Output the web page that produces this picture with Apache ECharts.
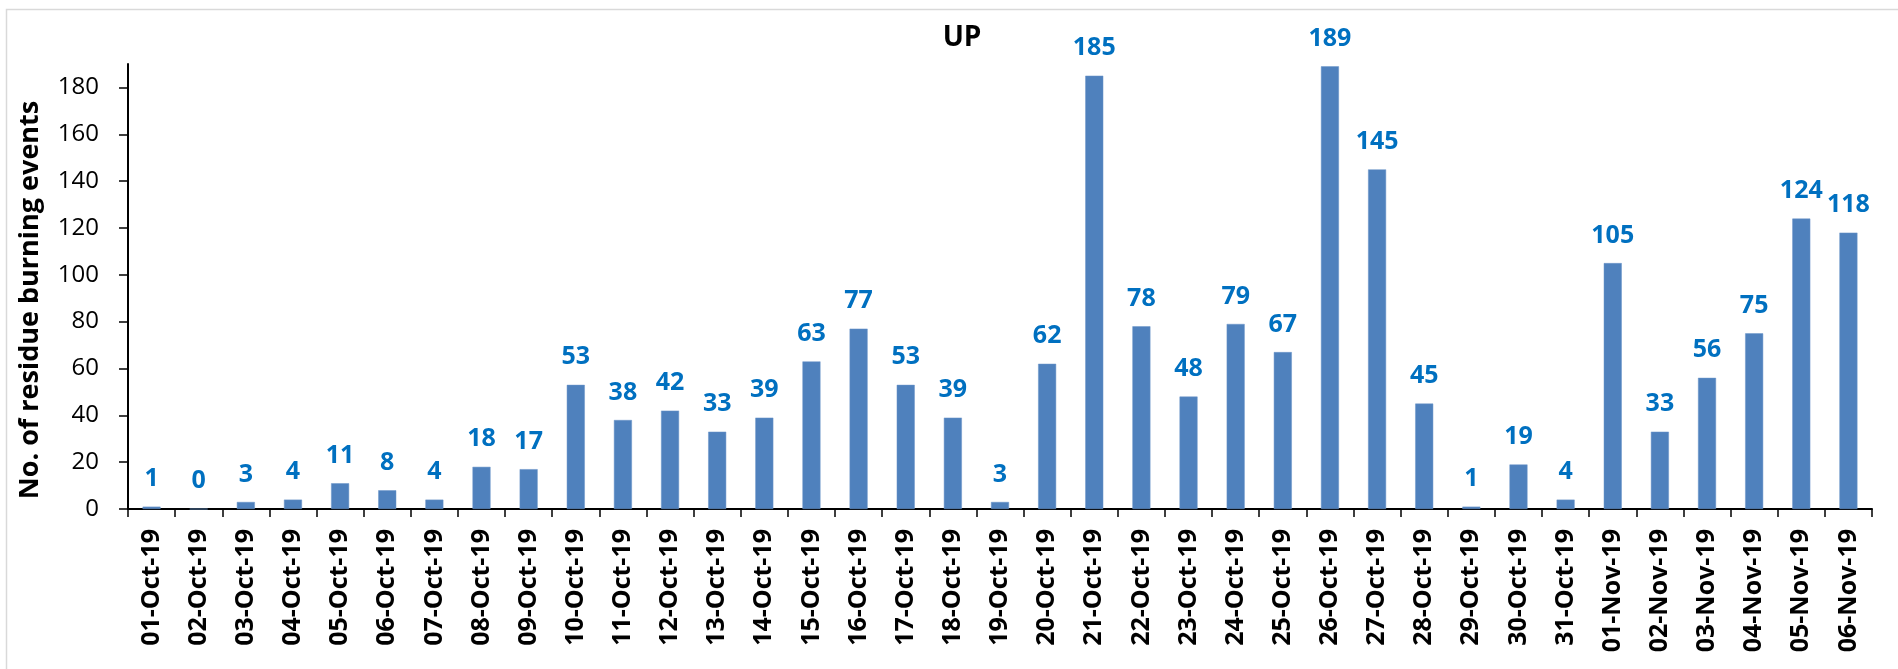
<!DOCTYPE html>
<html>
<head>
<meta charset="utf-8">
<script src="https://cdn.jsdelivr.net/npm/echarts@6/dist/echarts.min.js"></script>
<style>
html,body{margin:0;padding:0;background:#fff;}
#chart{width:1898px;height:669px;}
</style>
</head>
<body>
<div id="chart"></div>
<script>
const categories = ["01-Oct-19","02-Oct-19","03-Oct-19","04-Oct-19","05-Oct-19","06-Oct-19","07-Oct-19","08-Oct-19","09-Oct-19","10-Oct-19","11-Oct-19","12-Oct-19","13-Oct-19","14-Oct-19","15-Oct-19","16-Oct-19","17-Oct-19","18-Oct-19","19-Oct-19","20-Oct-19","21-Oct-19","22-Oct-19","23-Oct-19","24-Oct-19","25-Oct-19","26-Oct-19","27-Oct-19","28-Oct-19","29-Oct-19","30-Oct-19","31-Oct-19","01-Nov-19","02-Nov-19","03-Nov-19","04-Nov-19","05-Nov-19","06-Nov-19"];
const events = [1,0,3,4,11,8,4,18,17,53,38,42,33,39,63,77,53,39,3,62,185,78,48,79,67,189,145,45,1,19,4,105,33,56,75,124,118];
const yTicks = [0,20,40,60,80,100,120,140,160,180];
const chartTitle = "UP";
const yTitle = "No. of residue burning events";

const FONT = "'Open Sans', 'Liberation Sans', sans-serif";
const chart = echarts.init(document.getElementById('chart'), null, {renderer:'canvas'});
chart.setOption({
  animation: false,
  backgroundColor: '#ffffff',
  graphic: [
    {type:'rect', shape:{x:6.5, y:9.5, width:1900, height:700}, style:{fill:'none', stroke:'#d9d9d9', lineWidth:1.5}, silent:true, z:-1},
    {type:'text', x:962, y:38, style:{text:chartTitle, font:"bold 28px " + FONT, fill:'#000', align:'center', verticalAlign:'middle'}},
    {type:'text', x:30, y:300, rotation:Math.PI/2, style:{text:yTitle, font:"bold 27px " + FONT, fill:'#000', align:'center', verticalAlign:'middle'}}
  ],
  grid: {left:128, right:26, top:64, bottom:160, containLabel:false},
  xAxis: {
    type:'category',
    data: categories,
    axisLine:{show:true, lineStyle:{color:'#000', width:2}},
    axisTick:{show:true, alignWithLabel:false, length:8, lineStyle:{color:'#000', width:1.5}},
    axisLabel:{rotate:90, interval:0, margin:20, color:'#000', fontFamily:FONT, fontWeight:'bold', fontSize:25}
  },
  yAxis: {
    type:'value',
    min:0, max:190, interval:20,
    axisLine:{show:true, lineStyle:{color:'#000', width:2}},
    axisTick:{show:true, length:9, lineStyle:{color:'#000', width:1.5}, customValues: yTicks},
    axisLabel:{color:'#000', fontFamily:FONT, fontSize:24, margin:29, customValues: yTicks},
    splitLine:{show:false}
  },
  series: [{
    type:'bar',
    data: events,
    barWidth: 18,
    itemStyle:{color:'#4F81BD', borderColor:'#6a94c8', borderWidth:0.5},
    label:{show:true, position:'top', distance:15, color:'#0070C0', fontFamily:FONT, fontWeight:'bold', fontSize:25}
  }]
});
</script>
</body>
</html>
